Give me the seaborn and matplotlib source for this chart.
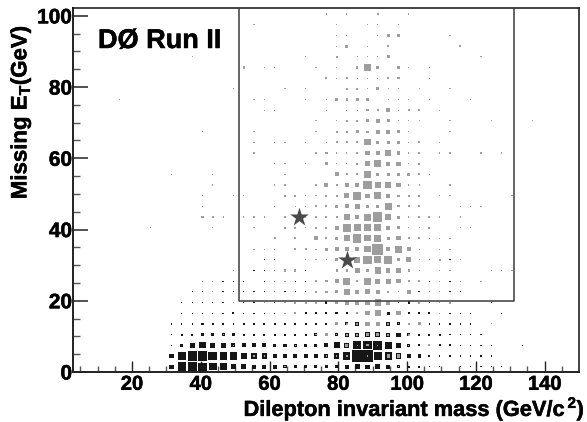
import pandas as pd
import matplotlib.pyplot as plt
import matplotlib.patheffects as pe
import seaborn as sns

# --------------------------------------------------
# data: entries per (3 GeV x 3 GeV) bin
# --------------------------------------------------

# keyed by missing ET bin centre, then dilepton mass bin centre
signal_bins = {
    100.5: {76.5: 1, 82.5: 1, 91.5: 4, 100.5: 1},
    97.5: {55.5: 1, 79.5: 1, 88.5: 1, 91.5: 1, 97.5: 1},
    94.5: {79.5: 1, 82.5: 1, 91.5: 1, 94.5: 9, 97.5: 6, 112.5: 1},
    91.5: {79.5: 1, 82.5: 9, 88.5: 1, 94.5: 6, 115.5: 4},
    88.5: {37.5: 1, 70.5: 1, 79.5: 4, 85.5: 1, 88.5: 1, 91.5: 1, 94.5: 9, 121.5: 1},
    85.5: {52.5: 4, 58.5: 1, 61.5: 1, 73.5: 1, 79.5: 1, 85.5: 4, 88.5: 36, 91.5: 9, 97.5: 4, 100.5: 1, 106.5: 1},
    82.5: {76.5: 4, 79.5: 1, 82.5: 4, 85.5: 1, 88.5: 1, 91.5: 1, 94.5: 4, 97.5: 6, 106.5: 1},
    79.5: {49.5: 1, 64.5: 1, 70.5: 1, 82.5: 4, 85.5: 4, 88.5: 1, 91.5: 9, 94.5: 1, 97.5: 1, 103.5: 1, 112.5: 1},
    76.5: {16.5: 1, 55.5: 1, 58.5: 1, 70.5: 1, 76.5: 1, 79.5: 9, 82.5: 4, 85.5: 9, 88.5: 4, 94.5: 1, 97.5: 1, 100.5: 1, 106.5: 1, 118.5: 1},
    73.5: {58.5: 1, 61.5: 1, 76.5: 1, 82.5: 1, 85.5: 1, 88.5: 4, 91.5: 4, 94.5: 16, 97.5: 1, 100.5: 4, 103.5: 4, 109.5: 1},
    70.5: {73.5: 1, 79.5: 1, 82.5: 4, 85.5: 4, 88.5: 9, 91.5: 16, 94.5: 9, 97.5: 1, 100.5: 1, 103.5: 1, 112.5: 1, 124.5: 1, 136.5: 1},
    67.5: {40.5: 1, 55.5: 1, 73.5: 1, 79.5: 4, 82.5: 4, 85.5: 9, 88.5: 4, 91.5: 16, 94.5: 16, 97.5: 9, 100.5: 1, 112.5: 1},
    64.5: {55.5: 1, 61.5: 1, 64.5: 1, 70.5: 1, 76.5: 1, 79.5: 4, 82.5: 4, 85.5: 4, 88.5: 36, 91.5: 9, 94.5: 9, 97.5: 9, 100.5: 1, 103.5: 4, 109.5: 1},
    61.5: {55.5: 1, 73.5: 4, 76.5: 6, 79.5: 1, 82.5: 1, 85.5: 6, 88.5: 16, 91.5: 16, 94.5: 36, 97.5: 9, 100.5: 1, 103.5: 4, 109.5: 1, 112.5: 1, 121.5: 1, 127.5: 1},
    58.5: {61.5: 1, 64.5: 1, 70.5: 1, 76.5: 9, 79.5: 1, 82.5: 1, 85.5: 4, 88.5: 25, 91.5: 49, 94.5: 16, 97.5: 16, 100.5: 1, 103.5: 4},
    55.5: {31.5: 1, 43.5: 1, 64.5: 1, 79.5: 16, 82.5: 4, 85.5: 4, 88.5: 49, 91.5: 9, 94.5: 9, 97.5: 9, 100.5: 9, 103.5: 4, 106.5: 1},
    52.5: {43.5: 1, 61.5: 1, 64.5: 1, 73.5: 1, 76.5: 16, 79.5: 4, 82.5: 16, 85.5: 16, 88.5: 64, 91.5: 36, 94.5: 36, 97.5: 16, 100.5: 1, 103.5: 1, 112.5: 4},
    49.5: {40.5: 1, 49.5: 1, 52.5: 1, 64.5: 4, 67.5: 4, 70.5: 1, 73.5: 1, 76.5: 4, 79.5: 4, 82.5: 25, 85.5: 64, 88.5: 16, 91.5: 49, 94.5: 16, 97.5: 4, 100.5: 4, 103.5: 4, 109.5: 1, 112.5: 1, 130.5: 1},
    46.5: {40.5: 1, 61.5: 1, 67.5: 1, 70.5: 1, 73.5: 4, 76.5: 4, 79.5: 9, 82.5: 16, 85.5: 25, 88.5: 9, 91.5: 9, 94.5: 49, 97.5: 4, 100.5: 4, 103.5: 4, 115.5: 1, 118.5: 1, 121.5: 1},
    43.5: {40.5: 4, 43.5: 4, 46.5: 1, 52.5: 1, 55.5: 1, 58.5: 1, 64.5: 4, 70.5: 1, 73.5: 1, 76.5: 4, 79.5: 4, 82.5: 36, 85.5: 16, 88.5: 49, 91.5: 81, 94.5: 36, 97.5: 9, 100.5: 1, 103.5: 4, 106.5: 4, 109.5: 1, 115.5: 1},
    40.5: {25.5: 1, 43.5: 1, 55.5: 1, 64.5: 4, 67.5: 4, 70.5: 1, 73.5: 4, 76.5: 4, 79.5: 16, 82.5: 64, 85.5: 49, 88.5: 49, 91.5: 49, 94.5: 16, 97.5: 9, 100.5: 1, 103.5: 1, 106.5: 4, 115.5: 1, 118.5: 1},
    37.5: {61.5: 4, 67.5: 4, 73.5: 16, 76.5: 4, 79.5: 9, 82.5: 36, 85.5: 64, 88.5: 36, 91.5: 49, 94.5: 9, 97.5: 16, 100.5: 4, 103.5: 4, 106.5: 1, 109.5: 1, 112.5: 1},
    34.5: {55.5: 1, 58.5: 1, 61.5: 1, 67.5: 4, 70.5: 4, 73.5: 1, 76.5: 9, 79.5: 16, 82.5: 16, 85.5: 16, 88.5: 36, 91.5: 121, 94.5: 16, 97.5: 49, 100.5: 16, 103.5: 1, 109.5: 1, 112.5: 1},
    31.5: {70.5: 1, 73.5: 1, 76.5: 1, 79.5: 9, 82.5: 16, 85.5: 36, 88.5: 64, 91.5: 49, 94.5: 64, 97.5: 9, 100.5: 25, 103.5: 1, 106.5: 1, 109.5: 4, 115.5: 1},
    28.5: {49.5: 1, 61.5: 1, 64.5: 4, 67.5: 4, 79.5: 4, 82.5: 4, 85.5: 25, 88.5: 4, 91.5: 36, 94.5: 16, 97.5: 16, 100.5: 4, 103.5: 1, 109.5: 1, 112.5: 1, 124.5: 1, 127.5: 1, 130.5: 1},
    25.5: {40.5: 1, 43.5: 1, 61.5: 1, 64.5: 1, 73.5: 4, 76.5: 6, 79.5: 16, 82.5: 49, 85.5: 4, 88.5: 49, 91.5: 25, 94.5: 25, 97.5: 16, 100.5: 4, 103.5: 6, 109.5: 1, 115.5: 1, 121.5: 1},
    22.5: {43.5: 1, 61.5: 1, 73.5: 4, 76.5: 6, 79.5: 9, 82.5: 36, 85.5: 16, 88.5: 25, 91.5: 16, 94.5: 6, 97.5: 1, 100.5: 16, 106.5: 1, 109.5: 1},
    19.5: {49.5: 1, 58.5: 1, 64.5: 1, 67.5: 4, 70.5: 4, 73.5: 4, 79.5: 9, 82.5: 16, 85.5: 16, 88.5: 16, 91.5: 36, 94.5: 16, 103.5: 4, 109.5: 1, 112.5: 4},
    16.5: {64.5: 1, 67.5: 4, 85.5: 4, 88.5: 16, 91.5: 36, 97.5: 16, 109.5: 1},
    13.5: {79.5: 9, 82.5: 4, 85.5: 4, 88.5: 16, 91.5: 16, 94.5: 4, 97.5: 1, 100.5: 4, 103.5: 9, 124.5: 1},
    10.5: {46.5: 1, 73.5: 1, 76.5: 9, 79.5: 1, 82.5: 4, 85.5: 4, 88.5: 9, 91.5: 9, 94.5: 4, 100.5: 4},
    7.5: {49.5: 1, 67.5: 1, 82.5: 9, 85.5: 1, 88.5: 4, 91.5: 1, 100.5: 1, 106.5: 4},
    4.5: {55.5: 1, 58.5: 1, 76.5: 1, 79.5: 1, 82.5: 4, 88.5: 1, 94.5: 9, 97.5: 9},
    1.5: {64.5: 1, 97.5: 1},
}

background_bins = {
    31.5: {58.5: 1, 61.5: 1, 112.5: 1},
    28.5: {55.5: 1, 58.5: 1, 70.5: 1},
    25.5: {46.5: 1, 49.5: 1, 52.5: 1, 58.5: 1, 67.5: 1, 70.5: 1, 106.5: 1, 112.5: 1},
    22.5: {37.5: 1, 40.5: 1, 46.5: 1, 49.5: 1, 52.5: 1, 55.5: 1, 58.5: 1, 64.5: 1, 67.5: 1, 70.5: 1, 103.5: 1, 112.5: 1, 115.5: 1},
    19.5: {34.5: 1, 37.5: 1, 40.5: 1, 43.5: 1, 46.5: 1, 52.5: 1, 55.5: 1, 61.5: 1, 76.5: 4, 97.5: 2, 100.5: 4, 106.5: 1, 124.5: 1},
    16.5: {34.5: 1, 37.5: 1, 40.5: 1, 43.5: 1, 46.5: 1, 49.5: 4, 52.5: 1, 55.5: 1, 58.5: 1, 61.5: 1, 70.5: 4, 73.5: 4, 76.5: 4, 79.5: 4, 82.5: 4, 94.5: 9, 100.5: 4, 103.5: 4, 106.5: 4, 112.5: 1, 115.5: 1, 118.5: 1, 127.5: 1},
    13.5: {31.5: 1, 34.5: 1, 37.5: 1, 40.5: 4, 43.5: 2, 46.5: 2, 49.5: 2, 52.5: 4, 55.5: 4, 58.5: 4, 61.5: 4, 64.5: 4, 67.5: 4, 70.5: 4, 73.5: 4, 76.5: 4, 82.5: 9, 85.5: 16, 94.5: 16, 97.5: 9, 106.5: 1, 109.5: 1, 112.5: 1, 115.5: 1, 118.5: 1},
    10.5: {31.5: 1, 34.5: 4, 37.5: 4, 40.5: 9, 43.5: 9, 46.5: 9, 49.5: 9, 52.5: 4, 55.5: 4, 58.5: 4, 61.5: 4, 64.5: 4, 67.5: 4, 70.5: 4, 73.5: 9, 76.5: 4, 79.5: 9, 82.5: 16, 85.5: 16, 88.5: 25, 91.5: 25, 94.5: 16, 97.5: 16, 100.5: 9, 103.5: 4, 106.5: 4, 109.5: 4, 112.5: 1, 115.5: 1, 118.5: 1, 121.5: 1},
    7.5: {31.5: 1, 34.5: 9, 37.5: 25, 40.5: 36, 43.5: 25, 46.5: 25, 49.5: 16, 52.5: 16, 55.5: 16, 58.5: 16, 61.5: 9, 64.5: 9, 67.5: 9, 70.5: 9, 73.5: 9, 76.5: 16, 79.5: 36, 82.5: 25, 85.5: 64, 88.5: 64, 91.5: 81, 94.5: 49, 97.5: 25, 100.5: 9, 103.5: 4, 109.5: 4, 112.5: 4, 115.5: 1, 118.5: 1, 121.5: 1, 124.5: 1, 133.5: 1},
    4.5: {31.5: 16, 34.5: 64, 37.5: 81, 40.5: 81, 43.5: 72, 46.5: 49, 49.5: 49, 52.5: 36, 55.5: 36, 58.5: 25, 61.5: 16, 64.5: 20, 67.5: 16, 70.5: 16, 73.5: 16, 76.5: 16, 79.5: 25, 82.5: 49, 85.5: 121, 88.5: 121, 91.5: 64, 94.5: 49, 97.5: 25, 100.5: 16, 103.5: 9, 106.5: 4, 109.5: 1, 112.5: 1, 115.5: 1, 118.5: 1, 121.5: 1, 124.5: 1},
    1.5: {31.5: 16, 34.5: 72, 37.5: 81, 40.5: 64, 43.5: 56, 46.5: 49, 49.5: 25, 52.5: 25, 55.5: 16, 58.5: 16, 61.5: 16, 64.5: 9, 67.5: 9, 70.5: 9, 73.5: 9, 76.5: 9, 79.5: 9, 82.5: 16, 85.5: 25, 88.5: 16, 91.5: 25, 94.5: 16, 97.5: 9, 100.5: 4, 103.5: 4, 106.5: 1, 109.5: 1, 115.5: 1, 118.5: 1, 121.5: 1, 124.5: 1, 127.5: 1},
}

# the two candidate events
candidate_mass = [68.5, 82.5]
candidate_met = [43.5, 31.5]

x_ticks = [20, 40, 60, 80, 100, 120, 140]
y_ticks = [0, 20, 40, 60, 80, 100]


def to_frame(bins):
    rows = []
    for met, row in bins.items():
        for mass, count in row.items():
            rows.append({"mass": mass, "met": met, "count": count})
    return pd.DataFrame(rows)


df_signal = to_frame(signal_bins)
df_background = to_frame(background_bins)

# --------------------------------------------------
# plotting
# --------------------------------------------------

sns.set_style("ticks")
plt.rcParams["font.family"] = ["Liberation Sans", "DejaVu Sans"]
plt.rcParams["font.weight"] = "bold"
plt.rcParams["mathtext.fontset"] = "custom"
plt.rcParams["mathtext.rm"] = "Liberation Sans:bold"
plt.rcParams["mathtext.default"] = "rm"

fig = plt.figure(figsize=(5.87, 4.22), dpi=100)
ax = fig.add_axes([73.5 / 587, 1 - 372 / 422, (579 - 73.5) / 587, (372 - 8) / 422])

# box area goes with the bin content, one entry is about one pixel wide
px2 = 0.72 ** 2
sns.scatterplot(data=df_background, x="mass", y="met", size="count", sizes=(1.5 * px2, 125 * px2),
                size_norm=(1, 121), marker="s", color="#161616", linewidth=0, legend=False, ax=ax, zorder=2)
sns.scatterplot(data=df_signal, x="mass", y="met", size="count", sizes=(1.3 * px2, 125 * px2),
                size_norm=(1, 121), marker="s", color="#9e9e9e", linewidth=0, legend=False, ax=ax, zorder=3)

# selection box
ax.plot([51, 51, 131, 131], [103, 20, 20, 103], color="#3a3a3a", lw=1.1, zorder=4)

sns.scatterplot(x=candidate_mass, y=candidate_met, marker="*", s=200, color="#4a4a4a",
                linewidth=0, legend=False, ax=ax, zorder=5)

ax.set_xlim(3, 150)
ax.set_ylim(0, 102.2)
ax.set_xticks(x_ticks)
ax.set_yticks(y_ticks)
ax.set_xticks(range(5, 150, 5), minor=True)
ax.set_yticks(range(0, 101, 5), minor=True)
ax.tick_params(axis="x", which="major", direction="in", length=8, width=1, labelsize=14.5, pad=2, color="#222222")
ax.tick_params(axis="x", which="minor", direction="in", length=4.5, width=1, color="#555555")
ax.tick_params(axis="y", which="major", direction="in", length=11, width=1.1, labelsize=15, pad=1, color="#222222")
ax.tick_params(axis="y", which="minor", direction="in", length=5, width=1, color="#555555")

for side in ["left", "bottom"]:
    ax.spines[side].set_linewidth(1.4)
    ax.spines[side].set_color("#222222")
for side in ["top", "right"]:
    ax.spines[side].set_visible(True)
    ax.spines[side].set_linewidth(1.1)
    ax.spines[side].set_color("#111111")

ax.set_xlabel("")
ax.set_ylabel("")

heavy = [pe.withStroke(linewidth=0.35, foreground="black")]
for label in ax.get_xticklabels() + ax.get_yticklabels():
    label.set_path_effects(heavy)
    label.set_color("black")

fig.text(584 / 587, 1 - 409 / 422, "Dilepton invariant mass (GeV/c$^{\\,2}$)", ha="right", va="center",
         fontsize=15.7, fontweight="bold", color="black", path_effects=heavy)
fig.text(21 / 587, 1 - 112 / 422, "Missing E$_{\\mathrm{T}}$(GeV)", rotation=90, ha="center", va="center",
         fontsize=16, fontweight="bold", color="black", path_effects=heavy)
fig.text(98 / 587, 1 - 41 / 422, "DØ Run II", ha="left", va="center", fontsize=19.5, fontweight="bold",
         color="black", path_effects=heavy)

plt.savefig("out.png", dpi=100)
